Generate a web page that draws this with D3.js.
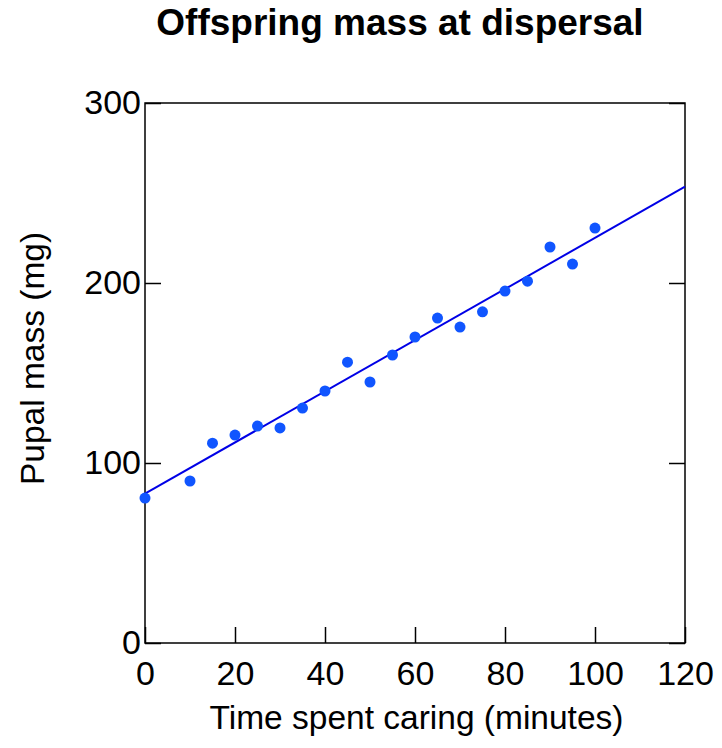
<!DOCTYPE html>
<html>
<head>
<meta charset="utf-8">
<script src="https://cdn.jsdelivr.net/npm/d3@7"></script>
<style>
  body { margin: 0; background: #fff; }
  svg text { font-family: "Liberation Sans", Arial, sans-serif; fill: #000; }
</style>
</head>
<body>
<div id="chart"></div>
<script>
    // Data
    const minutes = [0, 10, 15, 20, 25, 30, 35, 40, 45, 50, 55, 60, 65, 70, 75, 80, 85, 90, 95, 100];
    const massMg = [80.5, 90, 111, 115.5, 120.5, 119.5, 130.5, 140, 156, 145, 160, 170, 180.5, 175.5, 184, 195.5, 201, 220, 210.5, 230.5];
    const fitX = [0, 120];
    const fitY = [83, 253.5];
    const xTicks = [0, 20, 40, 60, 80, 100, 120];
    const yTicks = [0, 100, 200, 300];

    const width = 722;
    const height = 748;
    const margin = { top: 103, right: 37, bottom: 105, left: 145 };
    const innerW = width - margin.left - margin.right;
    const innerH = height - margin.top - margin.bottom;

    const svg = d3.select("#chart")
        .append("svg")
        .attr("width", width)
        .attr("height", height);

    const g = svg.append("g")
        .attr("transform", `translate(${margin.left},${margin.top})`);

    const x = d3.scaleLinear().domain([0, 120]).range([0, innerW]);
    const y = d3.scaleLinear().domain([0, 300]).range([innerH, 0]);

    // Axes with inward ticks
    const styleAxis = sel => {
        sel.select(".domain").remove();
        sel.selectAll(".tick line").attr("stroke", "#000").attr("stroke-width", 1.5);
        sel.selectAll(".tick text").style("font-size", "34px").attr("fill", "#000");
    };

    g.append("g")
        .call(d3.axisLeft(y).tickValues(yTicks).tickSize(-16).tickPadding(4))
        .call(styleAxis);

    g.append("g")
        .attr("transform", `translate(${innerW},0)`)
        .call(d3.axisRight(y).tickValues(yTicks).tickSize(-16).tickFormat(""))
        .call(styleAxis);

    g.append("g")
        .attr("transform", `translate(0,${innerH})`)
        .call(d3.axisBottom(x).tickValues(xTicks).tickSize(-16).tickPadding(18))
        .call(styleAxis);

    // Frame
    g.append("rect")
        .attr("x", 0).attr("y", 0)
        .attr("width", innerW).attr("height", innerH)
        .attr("fill", "none")
        .attr("stroke", "#000")
        .attr("stroke-width", 1.5);

    // Fit line
    g.append("line")
        .attr("x1", x(fitX[0])).attr("y1", y(fitY[0]))
        .attr("x2", x(fitX[1])).attr("y2", y(fitY[1]))
        .attr("stroke", "#0000e6")
        .attr("stroke-width", 2);

    // Points
    g.selectAll("circle")
        .data(minutes)
        .enter()
        .append("circle")
        .attr("cx", d => x(d))
        .attr("cy", (d, i) => y(massMg[i]))
        .attr("r", 5.5)
        .attr("fill", "#1055ff");

    // Titles
    svg.append("text")
        .attr("x", 400).attr("y", 35)
        .attr("text-anchor", "middle")
        .style("font-size", "37px")
        .style("font-weight", "bold")
        .text("Offspring mass at dispersal");

    svg.append("text")
        .attr("x", 416.5).attr("y", 729)
        .attr("text-anchor", "middle")
        .style("font-size", "33.5px")
        .text("Time spent caring (minutes)");

    svg.append("text")
        .attr("transform", "translate(44,358.5) rotate(-90)")
        .attr("text-anchor", "middle")
        .style("font-size", "33.5px")
        .text("Pupal mass (mg)");
</script>
</body>
</html>
